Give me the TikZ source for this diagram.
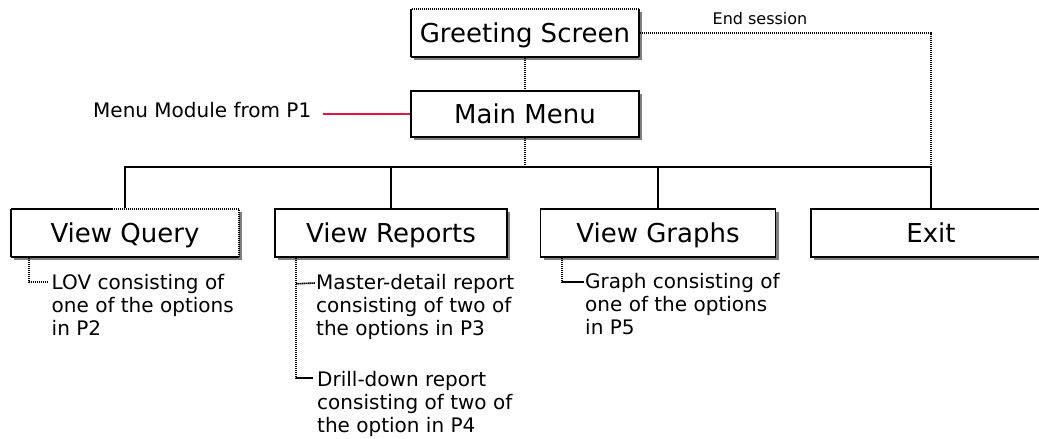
\documentclass[tikz,border=0pt]{standalone}
\usepackage{fontspec}
\setmainfont{DejaVu Sans}
\usetikzlibrary{shadows}
\definecolor{linkred}{RGB}{230,20,60}
\tikzset{
  x=1pt, y=-1pt,
  boxbase/.style={rectangle, fill=white, line width=1.6pt, inner sep=0pt,
    minimum height=48pt, font=\fontsize{26}{30}\selectfont,
    text height=19pt, text depth=0pt,
    drop shadow={shadow xshift=3pt, shadow yshift=-3pt, fill=black!50, opacity=1}},
  solidbox/.style={boxbase, draw=black},
  dotbox/.style={boxbase, draw=black, dash pattern=on 1.5pt off 0.5pt},
  solidline/.style={draw=black, line width=1.6pt},
  dotline/.style={draw=black, line width=1.6pt, dash pattern=on 1.5pt off 0.5pt},
  reddot/.style={draw=linkred, line width=1.5pt, dash pattern=on 1.5pt off 0.5pt},
  note/.style={anchor=north west, inner sep=0pt, align=left,
    font=\fontsize{20}{23}\selectfont},
  smalllabel/.style={inner sep=0pt, font=\fontsize{16}{19}\selectfont}
}
\begin{document}
\begin{tikzpicture}
\useasboundingbox (0,0) rectangle (1039,439);
\clip (0,0) rectangle (1039,439);

% boxes
\node[dotbox, minimum width=228pt] (greet) at (525,33) {Greeting Screen};
\node[solidbox, minimum width=228pt, minimum height=46pt] (main) at (525,114) {Main Menu};
\node[dotbox, minimum width=228pt] (vq) at (125,233) {View Query};
\node[solidbox, minimum width=232pt] (vr) at (391,233) {View Reports};
\node[solidbox, minimum width=235pt] (vg) at (658,233) {View Graphs};
\node[solidbox, minimum width=240pt] (exit) at (931,233) {Exit};

% labels
\node[smalllabel] (endlbl) at (760,18.5) {End session};
\node[anchor=base west, inner sep=0pt, font=\fontsize{20}{23}\selectfont] (mm) at (93,117.5) {Menu Module from P1};
\node[note] (lov) at (51.5,274) {LOV consisting of\\one of the options\\in P2};
\node[note] (md) at (316,274) {Master-detail report\\consisting of two of\\the options in P3};
\node[note] (dd) at (317,371) {Drill-down report\\consisting of two of\\the option in P4};
\node[note] (gr) at (585,273) {Graph consisting of\\one of the options\\in P5};

% bus coordinates
\coordinate (busL) at (125,167);
\coordinate (busM) at (525,167);
\coordinate (busR) at (931,167);
\coordinate (redstart) at (323,114);
\coordinate (lovp) at (48,282);
\coordinate (mdp) at (315,283);
\coordinate (ddp) at (313,378);
\coordinate (grp) at (584,282);

% connectors
\draw[dotline] (greet.south) -- (main.north);
\draw[dotline] (main.south) -- (busM);
\draw[solidline] (vq.north) -- (busL) -- (busR) -- (exit.north);
\draw[solidline] (vr.north) -- (vr.north |- busL);
\draw[solidline] (vg.north) -- (vg.north |- busL);
\draw[dotline] (greet.east) -| (busR);
\draw[reddot] (redstart) -- (main.west);

\draw[dotline] (vq.south west) ++(18.5,0) |- (lovp);
\draw[dotline] (vr.south west) ++(22,0) |- (ddp);
\draw[dotline] (vr.south west) ++(22,26) -- (mdp);
\draw[dotline] (vg.south west) ++(22.5,0) |- (grp);
\end{tikzpicture}
\end{document}
